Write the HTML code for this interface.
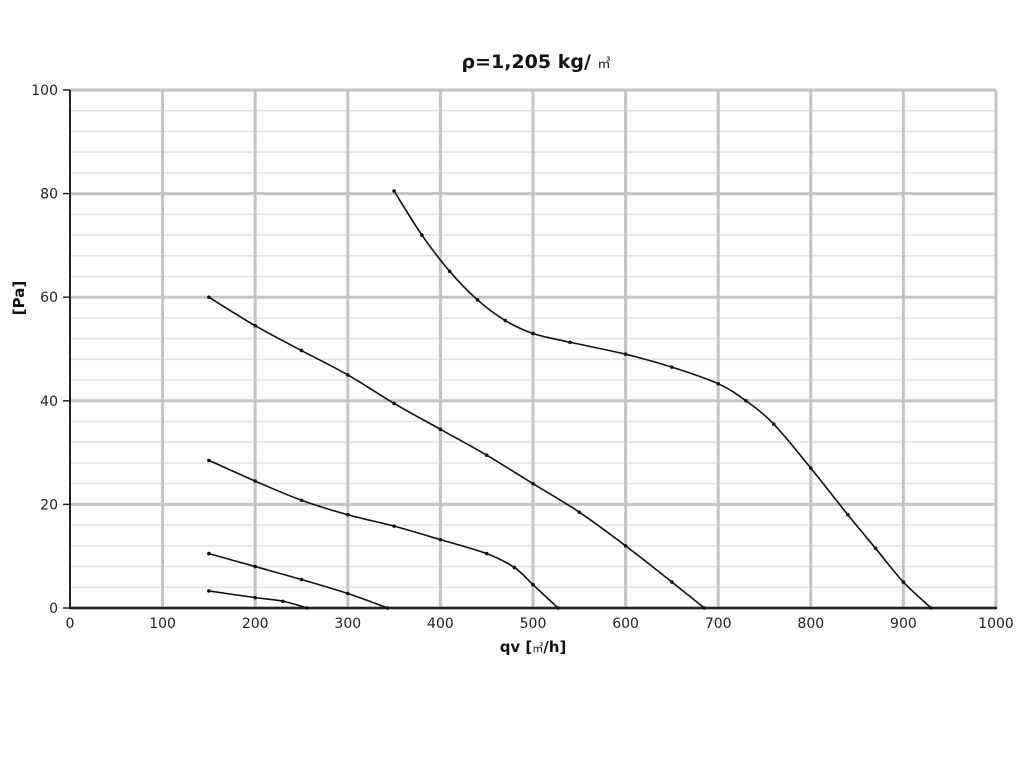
<!DOCTYPE html>
<html><head><meta charset="utf-8"><style>
body{margin:0;background:#fff;}
svg{display:block;font-family:"DejaVu Sans","Liberation Sans","Noto Sans CJK JP",sans-serif;}
</style></head><body>
<svg id="chart" width="1024" height="768">
<text x="536" y="68" text-anchor="middle" font-size="19" font-weight="bold" fill="#111">ρ=1,205 kg/ <tspan font-size="13" font-weight="normal" font-family="'Noto Sans CJK JP',sans-serif">㎥</tspan></text>
<g id="grid"></g><g id="axes"></g><g id="series"></g>
<text x="533" y="652" text-anchor="middle" font-size="15" font-weight="bold" fill="#111">qv [<tspan font-size="11" font-weight="normal" font-family="'Noto Sans CJK JP',sans-serif">㎥</tspan>/h]</text>
<text transform="translate(24,298) rotate(-90)" text-anchor="middle" font-size="15" font-weight="bold" fill="#111">[Pa]</text>
</svg>
<script>
const xTicks=[0,100,200,300,400,500,600,700,800,900,1000];
const yTicks=[0,20,40,60,80,100];
const c1x=[350,380,410,440,470,500,540,600,650,700,730,760,800,840,870,900,930];
const c1y=[80.5,72,65,59.5,55.5,53,51.3,49,46.5,43.3,40,35.5,27,18,11.5,5,0];
const c2x=[150,200,250,300,350,400,450,500,550,600,650,685];
const c2y=[60,54.5,49.7,45,39.5,34.5,29.5,24,18.5,12,5,0];
const c3x=[150,200,250,300,350,400,450,480,500,527];
const c3y=[28.5,24.5,20.8,18,15.8,13.2,10.5,7.8,4.5,0];
const c4x=[150,200,250,300,343];
const c4y=[10.5,8,5.5,2.8,0];
const c5x=[150,200,230,256];
const c5y=[3.3,2,1.3,0];
const X=v=>70+v*0.926, Y=v=>608-v*5.18;
const NS="http://www.w3.org/2000/svg";
function mk(t,a,p){const e=document.createElementNS(NS,t);for(const k in a)e.setAttribute(k,a[k]);p.appendChild(e);return e;}
const grid=document.getElementById('grid'),axes=document.getElementById('axes'),ser=document.getElementById('series');
for(let v=4;v<100;v+=4){if(v%20==0)continue;const l=mk('line',{x1:70,x2:996,y1:Y(v),y2:Y(v),stroke:'#e2e2e2','stroke-width':1.5},grid);

}
yTicks.forEach(v=>{const l=mk('line',{x1:70,x2:996,y1:Y(v),y2:Y(v),stroke:'#c4c4c4','stroke-width':3},grid);


const t=mk('text',{x:58,y:Y(v)+5,'text-anchor':'end','font-size':14,fill:'#222'},axes);t.textContent=v;


mk('line',{x1:63,x2:70,y1:Y(v),y2:Y(v),stroke:'#222','stroke-width':1.5},axes);});
xTicks.forEach(v=>{if(v>0){const l=mk('line',{x1:X(v),x2:X(v),y1:90,y2:608,stroke:'#c4c4c4','stroke-width':3},grid);

}
const t=mk('text',{x:X(v),y:628,'text-anchor':'middle','font-size':14,fill:'#222'},axes);t.textContent=v;

});
mk('line',{x1:70,x2:70,y1:90,y2:609,stroke:'#222','stroke-width':2},axes);
mk('line',{x1:69,x2:997,y1:608,y2:608,stroke:'#222','stroke-width':2.5},axes);
function curve(xs,ys,name){
 const p=xs.map((x,i)=>[X(x),Y(ys[i])]);
 let d=`M${p[0][0]},${p[0][1]}`;
 for(let i=0;i<p.length-1;i++){const p0=p[Math.max(0,i-1)],p1=p[i],p2=p[i+1],p3=p[Math.min(p.length-1,i+2)];
  d+=` C${p1[0]+(p2[0]-p0[0])/6},${p1[1]+(p2[1]-p0[1])/6} ${p2[0]-(p3[0]-p1[0])/6},${p2[1]-(p3[1]-p1[1])/6} ${p2[0]},${p2[1]}`;}
 const path=mk('path',{d:d,fill:'none',stroke:'#111','stroke-width':1.6},ser);
 
 
 p.forEach(q=>{const c=mk('circle',{cx:q[0],cy:q[1],r:1.8,fill:'#111'},ser);
 
 });
}
curve(c1x,c1y,'curve-speed-1');curve(c2x,c2y,'curve-speed-2');curve(c3x,c3y,'curve-speed-3');curve(c4x,c4y,'curve-speed-4');curve(c5x,c5y,'curve-speed-5');
</script>
</body></html>
